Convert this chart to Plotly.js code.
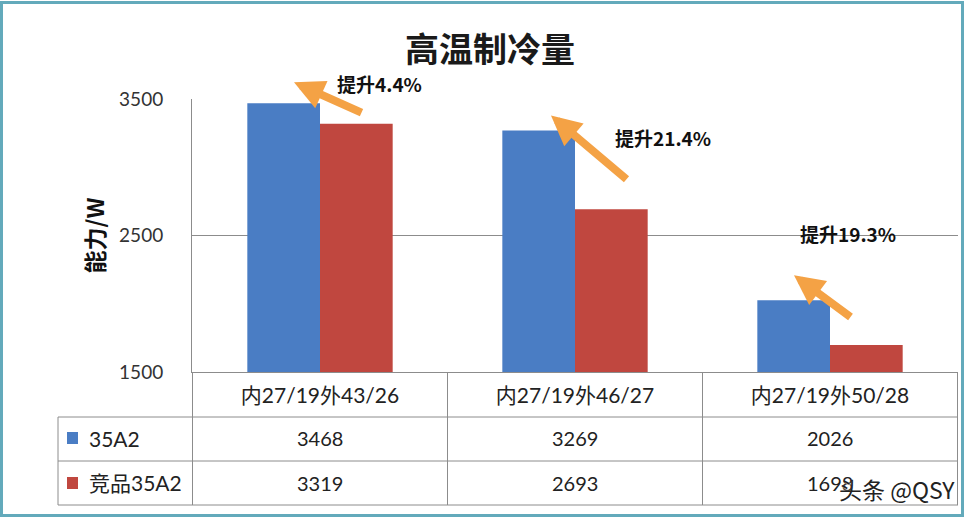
<!DOCTYPE html>
<html>
<head>
<meta charset="utf-8">
<script src="https://cdn.plot.ly/plotly-3.0.1.min.js"></script>
<style>
  body { margin: 0; background: #fff; }
  #graph { width: 968px; height: 522px; }
  #frame { position: absolute; left: 0; top: 1px; width: 958px; height: 510px; border: 3px solid #63aabb; pointer-events: none; }
</style>
</head>
<body>
<div id="graph"></div>
<div id="frame"></div>
<script>
// chart data
const categories = ['内27/19外43/26', '内27/19外46/27', '内27/19外50/28'];
const seriesNames = ['35A2', '竞品35A2'];
const ours = [3468, 3269, 2026];
const rival = [3319, 2693, 1698];
const gainLabels = ['提升4.4%', '提升21.4%', '提升19.3%'];
const yTicks = [1500, 2500, 3500];

const colors = ['#4a7dc4', '#c0473f'];
const orange = '#f4a245';
const font = 'Lato, "Noto Sans CJK SC", sans-serif';

// plot area in pixels, used to place table bits in paper coords
const L = 192, T = 99, W = 766, H = 273;
const px = x => (x - L) / W;
const py = y => (T + H - y) / H;
const rowY = [438, 483];

const traces = [ours, rival].map((vals, k) => ({
  type: 'bar',
  name: seriesNames[k],
  x: categories,
  y: vals,
  marker: {color: colors[k]},
  hoverinfo: 'none'
}));

// table grid
const line = {color: '#8c8c8c', width: 1};
const shapes = [];
[417, 461, 505].forEach(y => shapes.push({type: 'line', xref: 'paper', yref: 'paper',
  x0: px(58), x1: 1, y0: py(y), y1: py(y), line}));
shapes.push({type: 'line', xref: 'paper', yref: 'paper', x0: px(58), x1: px(58), y0: py(417), y1: py(505), line});
for (let i = 0; i <= categories.length; i++) {
  shapes.push({type: 'line', xref: 'x', yref: 'paper', x0: i - 0.5, x1: i - 0.5, y0: 0, y1: py(505), line});
}
// legend keys in the table
rowY.forEach((y, k) => shapes.push({type: 'rect', xref: 'paper', yref: 'paper',
  x0: px(67), x1: px(78), y0: py(y - 6), y1: py(y + 6), fillcolor: colors[k], line: {width: 0}}));

const annotations = [];
// table values
[ours, rival].forEach((vals, k) => {
  annotations.push({xref: 'paper', yref: 'paper', x: px(87), y: py(rowY[k]), xanchor: 'left', yanchor: 'middle',
    text: seriesNames[k], showarrow: false, font: {family: font, size: 21, color: '#222'}});
  vals.forEach((v, i) => annotations.push({xref: 'x', yref: 'paper', x: categories[i], y: py(rowY[k]),
    xanchor: 'center', yanchor: 'middle',
    text: String(v), showarrow: false, font: {family: font, size: 20, color: '#222'}}));
});

// orange arrows and gain labels, placed relative to the blue bar tops
const arrowFrom = [[10, -21, 69, 31], [12, -15, 77, 65], [0, -25, 58, 43]];
const labelAt = [[51, 20], [74, -7], [4, 67]];
categories.forEach((c, i) => {
  const [dx, dy, ax, ay] = arrowFrom[i];
  annotations.push({xref: 'x', yref: 'y', x: c, y: ours[i], xshift: -36 + dx, yshift: -dy,
    text: '', showarrow: true, ax, ay, arrowcolor: orange, arrowwidth: 8, arrowhead: 2, arrowsize: 0.75});
  annotations.push({xref: 'x', yref: 'y', x: c, y: ours[i], xshift: -36 + labelAt[i][0], yshift: labelAt[i][1],
    xanchor: 'left', yanchor: 'middle', text: gainLabels[i], showarrow: false,
    font: {family: '"Noto Sans CJK SC", sans-serif', size: 19, color: '#111', weight: 'bold'}});
});

// watermark
annotations.push({xref: 'paper', yref: 'paper', x: px(957), y: py(489), xanchor: 'right', yanchor: 'middle',
  text: '头条 @QSY', showarrow: false,
  font: {family: '"Noto Sans CJK SC", sans-serif', size: 23, color: '#222', shadow: '1px 1px 2px #fff'}});

const layout = {
  width: 968, height: 522,
  margin: {l: L, r: 968 - L - W, t: T, b: 522 - T - H},
  paper_bgcolor: '#fff', plot_bgcolor: '#fff',
  showlegend: false,
  barmode: 'group', bargap: 0.43, bargroupgap: 0,
  title: {text: '高温制冷量', x: 490 / 968, xref: 'container', xanchor: 'center',
    y: 1 - 50 / 522, yanchor: 'middle',
    font: {family: '"Noto Sans CJK SC", sans-serif', size: 34, color: '#1a1a1a', weight: 'bold'}},
  xaxis: {type: 'category', showline: true, linecolor: '#8c8c8c', linewidth: 1,
    ticks: '', ticklabelstandoff: 5, showgrid: false, zeroline: false,
    tickfont: {family: font, size: 21, color: '#222'}},
  yaxis: {range: [1500, 3500], tickvals: yTicks, showline: true, linecolor: '#8c8c8c',
    showgrid: true, gridcolor: '#8c8c8c', gridwidth: 1, zeroline: false,
    ticks: '', ticklabelstandoff: 24,
    tickfont: {family: font, size: 19, color: '#333'},
    title: {text: '能力/W', standoff: 8,
      font: {family: '"Noto Sans CJK SC", sans-serif', size: 23, color: '#111', weight: 'bold'}}},
  shapes, annotations
};

Plotly.newPlot('graph', traces, layout, {displayModeBar: false, staticPlot: true});
</script>
</body>
</html>
